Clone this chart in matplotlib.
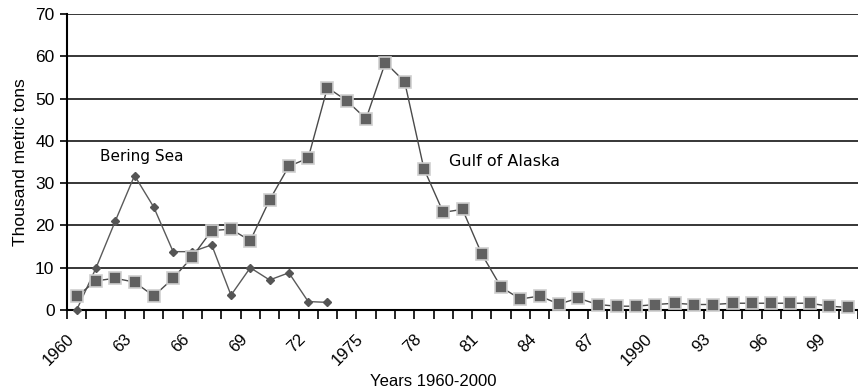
import matplotlib.pyplot as plt
import numpy as np

plt.rcParams['font.family'] = ['Liberation Sans', 'DejaVu Sans']

# data (thousand metric tons)
years = list(range(1960, 2001))
tickLabels = ["1960", "63", "66", "69", "72", "1975", "78", "81", "84", "87",
              "1990", "93", "96", "99"]
gulfOfAlaska = [3.2, 6.9, 7.5, 6.6, 3.3, 7.5, 12.6, 18.8, 19.1, 16.4,
                26.0, 34.0, 35.9, 52.6, 49.5, 45.2, 58.5, 54.0, 33.4, 23.1,
                23.8, 13.2, 5.4, 2.6, 3.3, 1.4, 2.8, 1.3, 0.9, 0.9,
                1.3, 1.6, 1.3, 1.3, 1.6, 1.6, 1.6, 1.6, 1.6, 0.9,
                0.6]
beringSea = [0.0, 9.9, 21.0, 31.8, 24.3, 13.8, 13.8, 15.4, 3.5, 10.0,
             7.1, 8.8, 2.0, 1.8]

FIGWIDTH = 8.58
FIGHEIGHT = 3.91

fig = plt.figure(figsize=(FIGWIDTH, FIGHEIGHT), dpi=100)
ax = fig.add_axes([67 / 858, 1 - 310 / 391, 1 - 67 / 858, (310 - 14) / 391])

xGulf = np.arange(len(gulfOfAlaska))
xBering = np.arange(len(beringSea))

ax.plot(xBering, beringSea, color='#5a5a5a', linewidth=1.0,
        marker='D', markersize=4.5, markerfacecolor='#555555',
        markeredgecolor='#555555', zorder=3, clip_on=False)
ax.plot(xGulf, gulfOfAlaska, color='#4a4a4a', linewidth=1.0,
        marker='s', markersize=8.5, markerfacecolor='#616161',
        markeredgecolor='#cfcfcf', markeredgewidth=1.2, zorder=4, clip_on=False)

ax.set_xlim(-0.5, len(years) - 0.5)
ax.set_ylim(0, 70)
ax.set_yticks(range(0, 71, 10))
ax.yaxis.grid(True, color='black', linewidth=1.1)
ax.set_axisbelow(True)

# category boundaries get the tick marks, every third category gets a label
ax.set_xticks(np.arange(-0.5, len(years), 1.0), minor=True)
ax.set_xticks(np.arange(0, len(years), 3))
ax.set_xticklabels(tickLabels, rotation=45, ha='right', va='bottom',
                   rotation_mode='anchor', fontsize=12)
ax.tick_params(axis='x', which='major', length=0, pad=23)
ax.tick_params(axis='x', which='minor', length=6.5, width=1.2, direction='out')
ax.tick_params(axis='y', length=5, width=1.2, labelsize=12.5, pad=4)

for side in ('top', 'right'):
    ax.spines[side].set_visible(False)
ax.spines['left'].set_linewidth(1.5)
ax.spines['bottom'].set_linewidth(1.5)

ax.set_ylabel("Thousand metric tons", fontsize=12.5, labelpad=5)
fig.text(433 / 858, 1 - 382 / 391, "Years 1960-2000", ha='center', va='center',
         fontsize=12, family=['Liberation Sans Narrow', 'Liberation Sans'])

ax.text(1.2, 36.3, "Bering Sea", fontsize=11, va='center', family='DejaVu Sans')
ax.text(19.3, 35.0, "Gulf of Alaska", fontsize=11.5, va='center', family='DejaVu Sans')

fig.savefig("out.png", dpi=100)
